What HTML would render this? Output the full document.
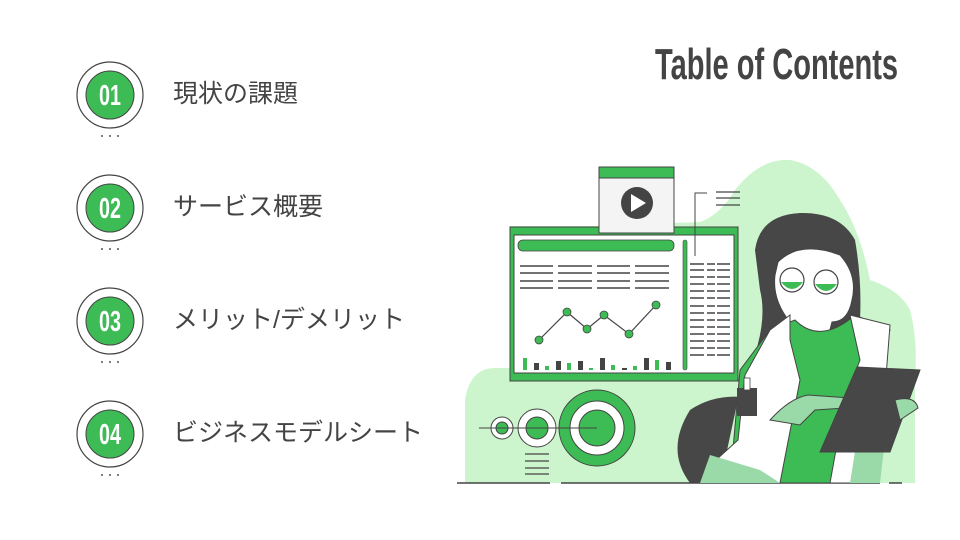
<!DOCTYPE html>
<html><head><meta charset="utf-8"><style>
body{margin:0;width:960px;height:540px;background:#fff;overflow:hidden;position:relative;font-family:"Liberation Sans","Noto Sans CJK JP",sans-serif}
.t{position:absolute;left:173px;font-size:25px;color:#444;line-height:30px}
.title{position:absolute;left:655px;top:40px;font-size:44px;font-weight:bold;color:#444;transform:scaleX(0.66);transform-origin:left top;white-space:nowrap}
</style></head><body>
<svg width="960" height="540" style="position:absolute;left:0;top:0">
<g stroke="#444" stroke-width="1.2" fill="#fff">
<circle cx="110" cy="95" r="33"/><circle cx="110" cy="208" r="33"/><circle cx="110" cy="321" r="33"/><circle cx="110" cy="434" r="33"/>
</g>
<g fill="#3dbb55" stroke="#444" stroke-width="1">
<circle cx="110" cy="95" r="24"/><circle cx="110" cy="208" r="24"/><circle cx="110" cy="321" r="24"/><circle cx="110" cy="434" r="24"/>
</g>
<g fill="#fff" font-size="29" font-weight="bold" text-anchor="middle" font-family="Liberation Sans,sans-serif">
<text x="110" y="105" transform="translate(110 0) scale(0.68 1) translate(-110 0)">01</text>
<text x="110" y="218" transform="translate(110 0) scale(0.68 1) translate(-110 0)">02</text>
<text x="110" y="331" transform="translate(110 0) scale(0.68 1) translate(-110 0)">03</text>
<text x="110" y="444" transform="translate(110 0) scale(0.68 1) translate(-110 0)">04</text>
</g>
<g fill="#555">
<circle cx="102" cy="136" r="1"/><circle cx="110" cy="136" r="1"/><circle cx="118" cy="136" r="1"/>
<circle cx="102" cy="249" r="1"/><circle cx="110" cy="249" r="1"/><circle cx="118" cy="249" r="1"/>
<circle cx="102" cy="362" r="1"/><circle cx="110" cy="362" r="1"/><circle cx="118" cy="362" r="1"/>
<circle cx="102" cy="475" r="1"/><circle cx="110" cy="475" r="1"/><circle cx="118" cy="475" r="1"/>
</g>
<path d="M465 483 L465 400 Q470 368 495 368 L510 368 L510 226 L600 226 L600 215 Q640 225 700 222 Q720 215 735 190 Q760 158 790 160 Q820 165 840 200 Q860 230 870 280 Q900 290 910 310 Q918 340 915 380 L915 483 Z" fill="#cdf5cd"/>
<line x1="457" y1="483" x2="550" y2="483" stroke="#444" stroke-width="1.5"/>
<line x1="561" y1="483" x2="880" y2="483" stroke="#444" stroke-width="1.5"/>
<line x1="889" y1="483" x2="902" y2="483" stroke="#444" stroke-width="1.5"/>
<rect x="510" y="227" width="228" height="154" fill="#3dbb55" stroke="#444" stroke-width="1"/>
<rect x="514" y="235" width="220" height="138" fill="#fff" stroke="#444" stroke-width="1"/>
<rect x="518" y="240" width="156" height="11" rx="5" fill="#3dbb55" stroke="#444" stroke-width="0.8"/>
<rect x="683" y="240" width="4" height="130" rx="2" fill="#3dbb55" stroke="#444" stroke-width="0.6"/>
<g stroke="#444" stroke-width="1.5">
<path d="M520 266h33M558 266h34M597 266h33M635 266h34M520 273h33M558 273h34M597 273h33M635 273h34M520 281h33M558 281h34M597 281h33M635 281h34M520 288h33M558 288h34M597 288h33M635 288h34"/>
<path d="M690 264h40M690 270h40M690 277h40M690 284h40M690 291h40M690 298h40M690 306h40M690 313h40M690 320h40M690 327h40M690 334h40M690 341h40M690 348h40M690 355h40" stroke-dasharray="14 3 8 2"/>
</g>
<path d="M539 340 L567 312 L587 329 L604 315 L629 334 L656 305" fill="none" stroke="#444" stroke-width="1.2"/>
<g fill="#3dbb55" stroke="#444" stroke-width="0.8">
<circle cx="539" cy="340" r="4"/><circle cx="567" cy="312" r="4"/><circle cx="587" cy="329" r="4"/><circle cx="604" cy="315" r="4"/><circle cx="629" cy="334" r="4"/><circle cx="656" cy="305" r="4"/>
</g>
<g>
<rect x="523" y="358" width="4" height="12" fill="#3dbb55"/><rect x="534" y="363" width="5" height="7" fill="#444"/><rect x="545" y="366" width="4" height="4" fill="#3dbb55"/><rect x="556" y="361" width="5" height="9" fill="#444"/><rect x="567" y="363" width="4" height="7" fill="#3dbb55"/><rect x="578" y="361" width="5" height="9" fill="#444"/><rect x="589" y="368" width="4" height="2" fill="#3dbb55"/><rect x="600" y="358" width="5" height="12" fill="#444"/><rect x="611" y="365" width="4" height="5" fill="#3dbb55"/><rect x="622" y="368" width="5" height="2" fill="#444"/><rect x="633" y="366" width="4" height="4" fill="#3dbb55"/><rect x="644" y="358" width="5" height="12" fill="#444"/><rect x="655" y="360" width="4" height="10" fill="#3dbb55"/><rect x="666" y="362" width="5" height="8" fill="#444"/>
</g>
<rect x="599" y="167" width="75" height="66" fill="#f4f4f4" stroke="#444" stroke-width="1"/>
<rect x="599" y="167" width="75" height="11" fill="#3dbb55" stroke="#444" stroke-width="1"/>
<circle cx="637" cy="203" r="16" fill="#444"/>
<path d="M631 194 L646 203 L631 212 Z" fill="#fff"/>
<path d="M695 256 V193 H707" fill="none" stroke="#444" stroke-width="1"/>
<path d="M716 192h24M716 198h24M716 205h24" stroke="#444" stroke-width="1.2"/>
<circle cx="597" cy="428" r="38" fill="#3dbb55" stroke="#444" stroke-width="1"/>
<circle cx="597" cy="428" r="27" fill="#fff" stroke="#444" stroke-width="1"/>
<circle cx="597" cy="428" r="18" fill="#3dbb55" stroke="#444" stroke-width="1"/>
<circle cx="537" cy="428" r="19" fill="#fff" stroke="#444" stroke-width="1"/>
<circle cx="537" cy="428" r="11" fill="#3dbb55" stroke="#444" stroke-width="1"/>
<circle cx="502" cy="428" r="11" fill="#fff" stroke="#444" stroke-width="1"/>
<circle cx="502" cy="428" r="6" fill="#3dbb55" stroke="#444" stroke-width="1"/>
<line x1="479" y1="428" x2="597" y2="428" stroke="#444" stroke-width="1"/>
<path d="M525 454h24M525 461h24M525 468h24M525 474h24" stroke="#444" stroke-width="1.2"/>
<path d="M755 250 Q760 215 800 213 Q840 212 855 240 Q862 280 860 320 Q860 360 845 400 L760 400 Q720 390 690 410 Q665 450 690 483 L720 483 L740 390 Q770 330 760 290 Z" fill="#474747"/>
<path d="M778 262 Q800 240 840 255 Q858 275 852 300 Q848 322 832 322 L826 345 L792 345 L790 322 Q772 300 775 275 Z" fill="#fff" stroke="#444" stroke-width="1"/>
<path d="M776 258 Q790 245 815 240 Q840 250 855 262 L855 240 Q830 215 800 222 Q770 235 776 258 Z" fill="#474747"/>
<circle cx="792" cy="280" r="12" fill="#fff" stroke="#444" stroke-width="1.2"/><path d="M781 282 Q792 296 803 282 Z" fill="#3dbb55"/>
<circle cx="826" cy="282" r="12" fill="#fff" stroke="#444" stroke-width="1.2"/><path d="M815 284 Q826 298 837 284 Z" fill="#3dbb55"/>
<path d="M770 330 L740 370 L730 483 L850 483 L860 400 L890 330 L855 315 Q820 345 795 320 Z" fill="#3dbb55" stroke="#444" stroke-width="1"/>
<path d="M790 315 L770 330 L745 375 L738 440 L705 470 L700 483 L780 483 L800 380 L790 340 Z" fill="#fff" stroke="#444" stroke-width="1"/>
<path d="M850 315 L890 325 L885 390 L860 483 L830 483 L845 400 L860 360 Z" fill="#fff" stroke="#444" stroke-width="1"/>
<path d="M710 455 L700 483 L780 483 L760 470 Z" fill="#9ad9a8"/>
<path d="M860 420 L850 483 L880 483 L885 440 Z" fill="#9ad9a8"/>
<rect x="737" y="388" width="20" height="28" fill="#474747"/>
<rect x="744" y="378" width="6" height="12" fill="#fff" stroke="#444" stroke-width="0.8"/>
<path d="M770 420 Q790 398 808 395 L850 398 L845 408 L815 410 L800 425 Z" fill="#9ad9a8" stroke="#444" stroke-width="1"/>
<path d="M857 367 L920 370 L890 452 L820 452 Z" fill="#474747" stroke="#444" stroke-width="1"/>
<path d="M895 400 Q915 395 918 408 L900 420 Z" fill="#9ad9a8" stroke="#444" stroke-width="1"/>
</svg>
<div class="title">Table of Contents</div>
<div class="t" style="top:79px">現状の課題</div>
<div class="t" style="top:192px">サービス概要</div>
<div class="t" style="top:305px">メリット/デメリット</div>
<div class="t" style="top:418px">ビジネスモデルシート</div>
</body></html>
